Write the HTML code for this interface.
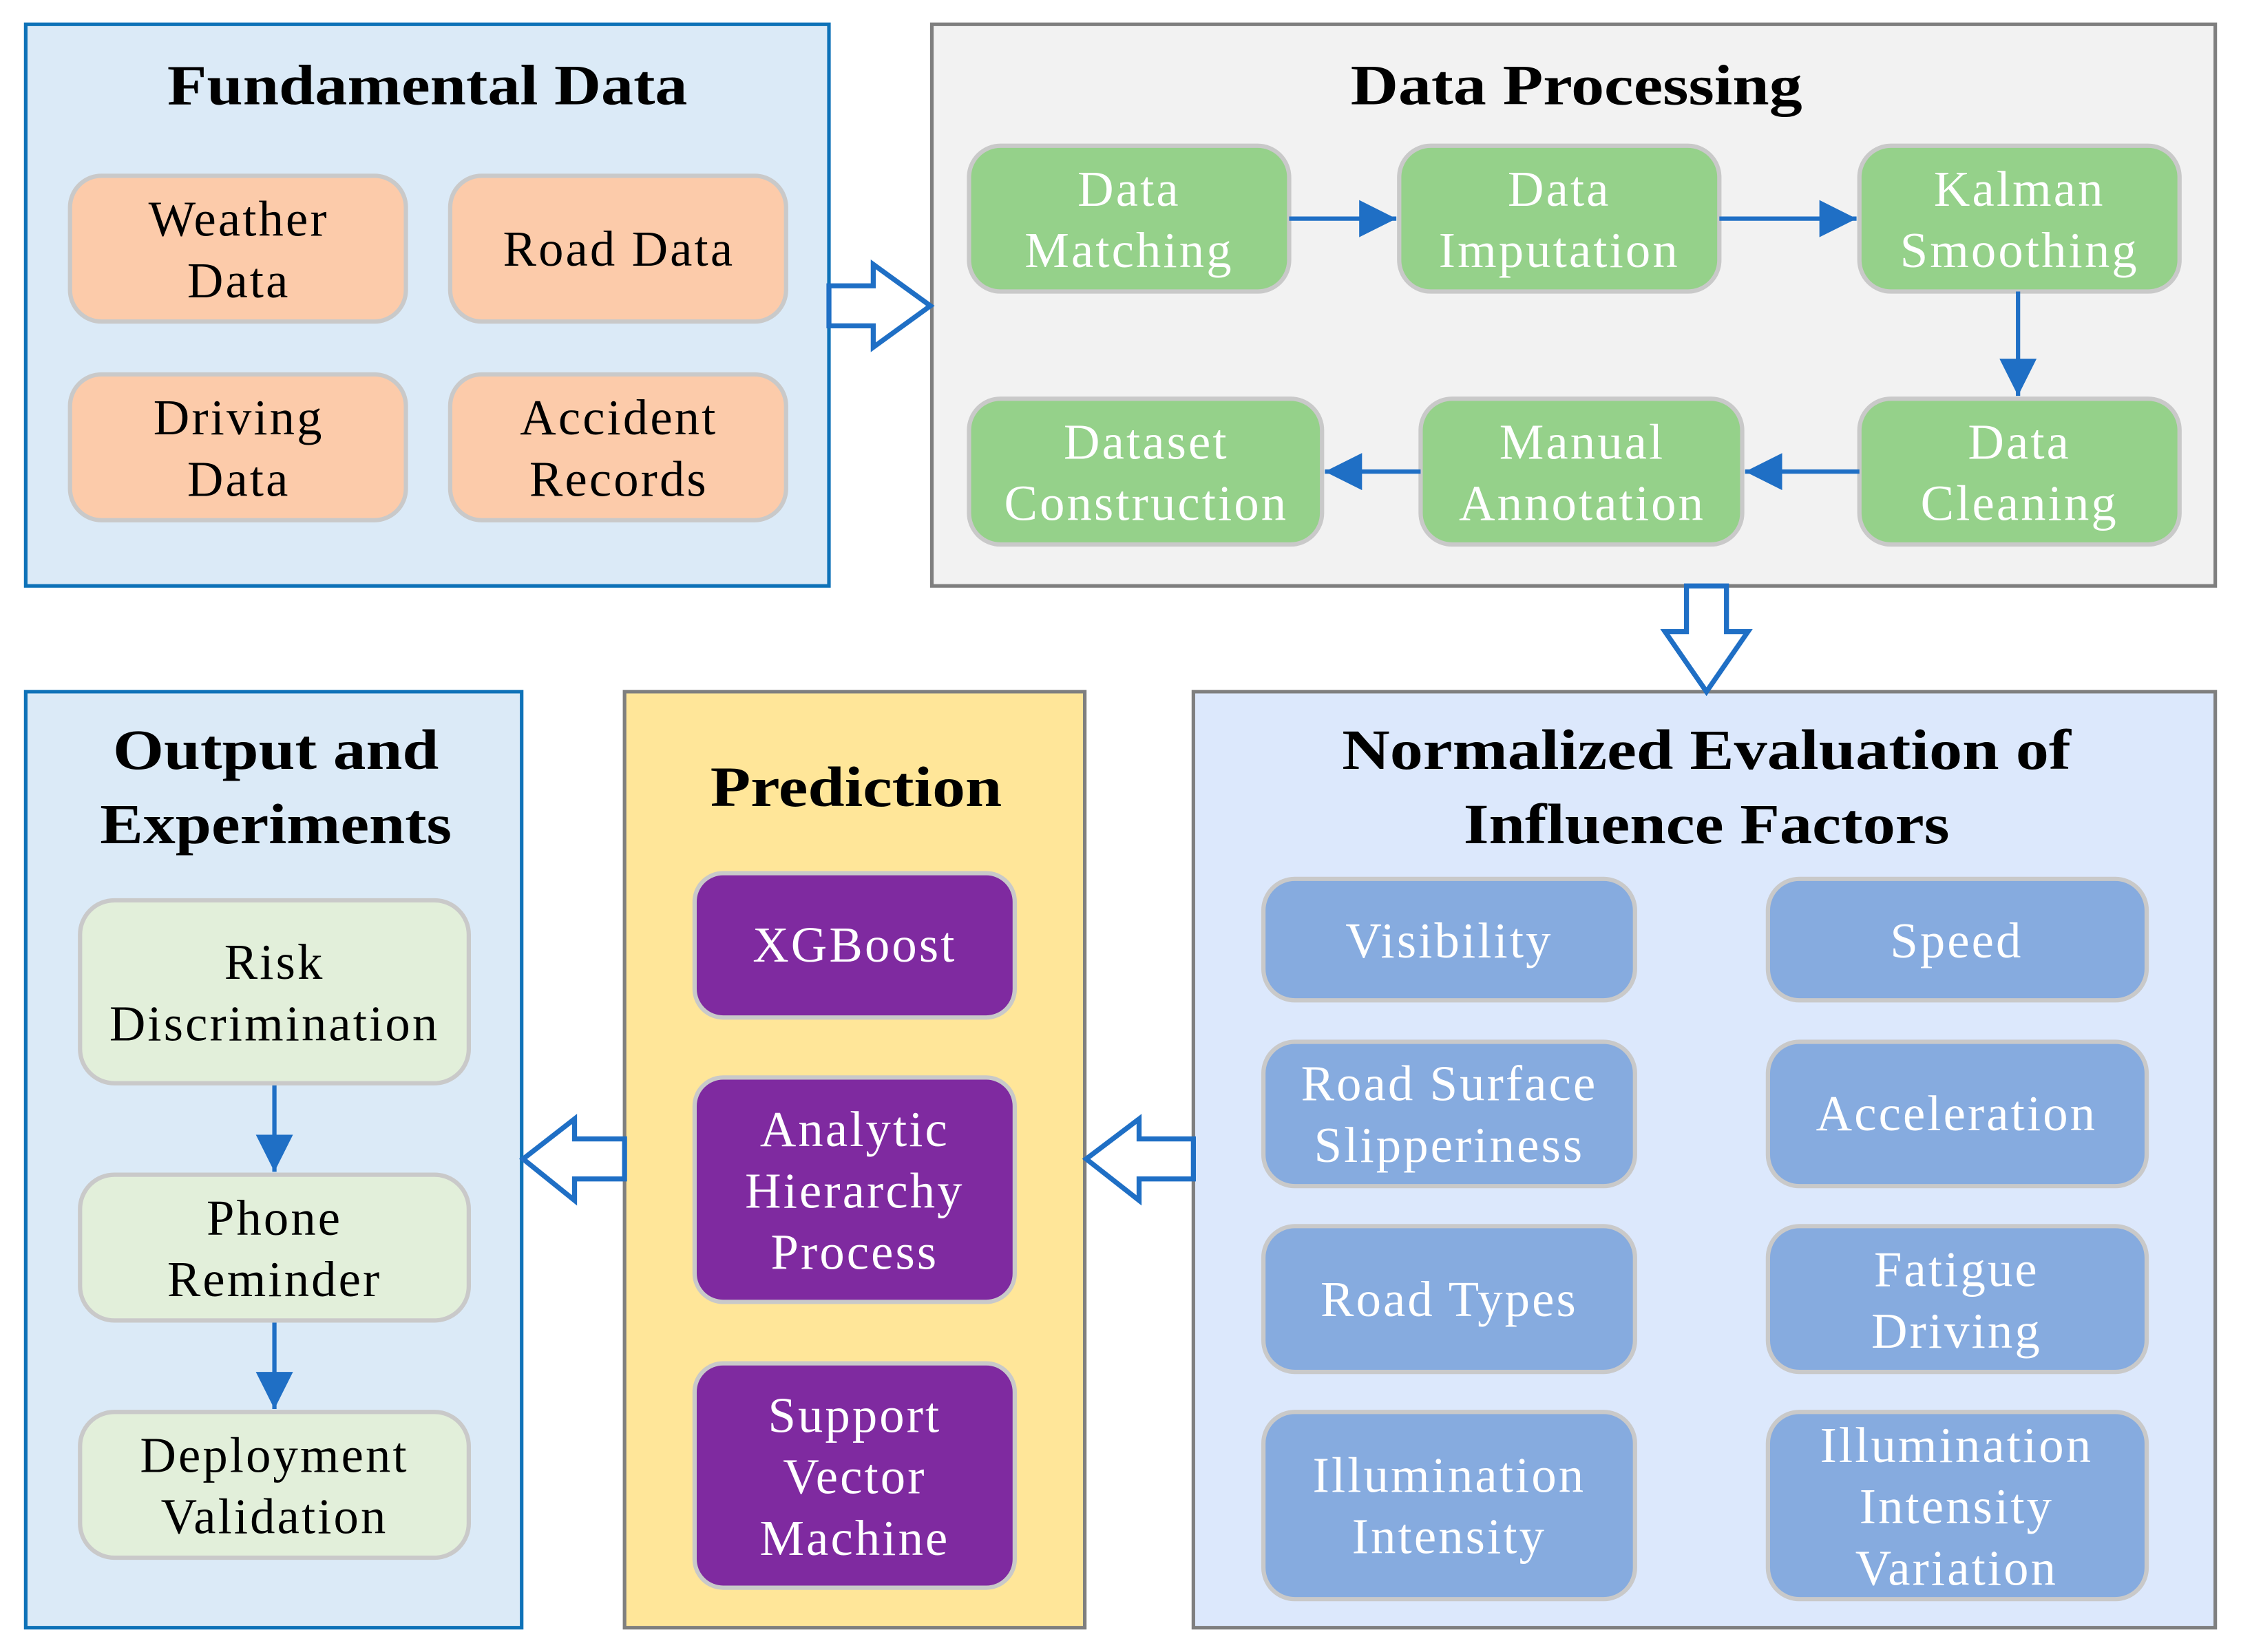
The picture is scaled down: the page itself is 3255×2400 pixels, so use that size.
<!DOCTYPE html>
<html><head><meta charset="utf-8"><style>
html,body{margin:0;padding:0;background:#fff}
svg{display:block}
text{font-family:"Liberation Serif",serif;text-anchor:middle}
.t{font-weight:bold;font-size:40px;fill:#000}
.n{font-size:35px;letter-spacing:1.5px}
</style></head><body>
<svg width="3255" height="2400" viewBox="0 0 1568 1156" preserveAspectRatio="none" xmlns="http://www.w3.org/2000/svg">
<defs>
<marker id="a" viewBox="0 0 10 10" refX="10" refY="5" markerWidth="26" markerHeight="26" orient="auto" markerUnits="userSpaceOnUse"><path d="M0,0 L10,5 L0,10 z" fill="#1f6fc5"/></marker>
</defs>
<rect x="18" y="17" width="562" height="393" fill="#dbeaf7" stroke="#0e72b8" stroke-width="2.5"/>
<rect x="652" y="17" width="898" height="393" fill="#f2f2f2" stroke="#7f7f7f" stroke-width="2.5"/>
<rect x="18" y="484" width="347" height="655" fill="#dbeaf7" stroke="#0e72b8" stroke-width="2.5"/>
<rect x="437" y="484" width="322" height="655" fill="#ffe699" stroke="#7f7f7f" stroke-width="2.5"/>
<rect x="835" y="484" width="715" height="655" fill="#dce8fc" stroke="#7f7f7f" stroke-width="2.5"/>
<text class="t" x="299" y="73" textLength="364" lengthAdjust="spacingAndGlyphs">Fundamental Data</text>
<text class="t" x="1103" y="73" textLength="316" lengthAdjust="spacingAndGlyphs">Data Processing</text>
<text class="t" x="193" y="538" textLength="228" lengthAdjust="spacingAndGlyphs">Output and</text>
<text class="t" x="193" y="590" textLength="246" lengthAdjust="spacingAndGlyphs">Experiments</text>
<text class="t" x="599" y="564" textLength="204" lengthAdjust="spacingAndGlyphs">Prediction</text>
<text class="t" x="1194" y="538" textLength="510" lengthAdjust="spacingAndGlyphs">Normalized Evaluation of</text>
<text class="t" x="1194" y="590" textLength="340" lengthAdjust="spacingAndGlyphs">Influence Factors</text>
<g fill="#fccbaa" stroke="#c9c9c9" stroke-width="3">
<rect x="49" y="123" width="235" height="102" rx="22"/>
<rect x="315" y="123" width="235" height="102" rx="22"/>
<rect x="49" y="262" width="235" height="102" rx="22"/>
<rect x="315" y="262" width="235" height="102" rx="22"/>
</g>
<g class="n" fill="#000">
<text x="167" y="165">Weather</text><text x="167" y="208">Data</text>
<text x="433" y="186">Road Data</text>
<text x="167" y="304">Driving</text><text x="167" y="347">Data</text>
<text x="433" y="304">Accident</text><text x="433" y="347">Records</text>
</g>
<g fill="#95d18a" stroke="#c9c9c9" stroke-width="3">
<rect x="678" y="102" width="224" height="102" rx="22"/>
<rect x="979" y="102" width="224" height="102" rx="22"/>
<rect x="1301" y="102" width="224" height="102" rx="22"/>
<rect x="678" y="279" width="247" height="102" rx="22"/>
<rect x="994" y="279" width="225" height="102" rx="22"/>
<rect x="1301" y="279" width="224" height="102" rx="22"/>
</g>
<g class="n" fill="#fff">
<text x="790" y="144">Data</text><text x="790" y="187">Matching</text>
<text x="1091" y="144">Data</text><text x="1091" y="187">Imputation</text>
<text x="1413" y="144">Kalman</text><text x="1413" y="187">Smoothing</text>
<text x="802" y="321">Dataset</text><text x="802" y="364">Construction</text>
<text x="1107" y="321">Manual</text><text x="1107" y="364">Annotation</text>
<text x="1413" y="321">Data</text><text x="1413" y="364">Cleaning</text>
</g>
<g stroke="#1f6fc5" stroke-width="3" fill="none">
<line x1="902" y1="153" x2="977" y2="153" marker-end="url(#a)"/>
<line x1="1203" y1="153" x2="1299" y2="153" marker-end="url(#a)"/>
<line x1="1412" y1="204" x2="1412" y2="277" marker-end="url(#a)"/>
<line x1="1301" y1="330" x2="1221" y2="330" marker-end="url(#a)"/>
<line x1="994" y1="330" x2="927" y2="330" marker-end="url(#a)"/>
<line x1="192" y1="758" x2="192" y2="820" marker-end="url(#a)"/>
<line x1="192" y1="924" x2="192" y2="986" marker-end="url(#a)"/>
</g>
<g fill="#fff" stroke="#1f6fc5" stroke-width="3.5" stroke-linejoin="miter">
<path d="M580,200 L611,200 L611,185 L651,214 L611,243 L611,228 L580,228 Z"/>
<path d="M1180,410 L1180,442 L1165,442 L1194,484 L1223,442 L1208,442 L1208,410 Z"/>
<path d="M835,797 L797,797 L797,783 L760,811 L797,840 L797,825 L835,825 Z"/>
<path d="M437,797 L402,797 L402,783 L366,811 L402,840 L402,825 L437,825 Z"/>
</g>
<g fill="#e2efda" stroke="#c9c9c9" stroke-width="3">
<rect x="56" y="630" width="272" height="128" rx="24"/>
<rect x="56" y="822" width="272" height="102" rx="24"/>
<rect x="56" y="988" width="272" height="102" rx="24"/>
</g>
<g class="n" fill="#000">
<text x="192" y="685">Risk</text><text x="192" y="728">Discrimination</text>
<text x="192" y="864">Phone</text><text x="192" y="907">Reminder</text>
<text x="192" y="1030">Deployment</text><text x="192" y="1073">Validation</text>
</g>
<g fill="#7f2aa0" stroke="#c9c9c9" stroke-width="3">
<rect x="486" y="611" width="224" height="101" rx="20"/>
<rect x="486" y="754" width="224" height="157" rx="20"/>
<rect x="486" y="954" width="224" height="157" rx="20"/>
</g>
<g class="n" fill="#fff">
<text x="598" y="673">XGBoost</text>
<text x="598" y="802">Analytic</text><text x="598" y="845">Hierarchy</text><text x="598" y="888">Process</text>
<text x="598" y="1002">Support</text><text x="598" y="1045">Vector</text><text x="598" y="1088">Machine</text>
</g>
<g fill="#86abdf" stroke="#c9c9c9" stroke-width="3">
<rect x="884" y="615" width="260" height="85" rx="22"/>
<rect x="1237" y="615" width="265" height="85" rx="22"/>
<rect x="884" y="729" width="260" height="101" rx="22"/>
<rect x="1237" y="729" width="265" height="101" rx="22"/>
<rect x="884" y="858" width="260" height="102" rx="22"/>
<rect x="1237" y="858" width="265" height="102" rx="22"/>
<rect x="884" y="988" width="260" height="131" rx="22"/>
<rect x="1237" y="988" width="265" height="131" rx="22"/>
</g>
<g class="n" fill="#fff">
<text x="1014" y="670">Visibility</text>
<text x="1369" y="670">Speed</text>
<text x="1014" y="770">Road Surface</text><text x="1014" y="813">Slipperiness</text>
<text x="1369" y="791">Acceleration</text>
<text x="1014" y="921">Road Types</text>
<text x="1369" y="900">Fatigue</text><text x="1369" y="943">Driving</text>
<text x="1014" y="1044">Illumination</text><text x="1014" y="1087">Intensity</text>
<text x="1369" y="1023">Illumination</text><text x="1369" y="1066">Intensity</text><text x="1369" y="1109">Variation</text>
</g>
</svg>
</body></html>
